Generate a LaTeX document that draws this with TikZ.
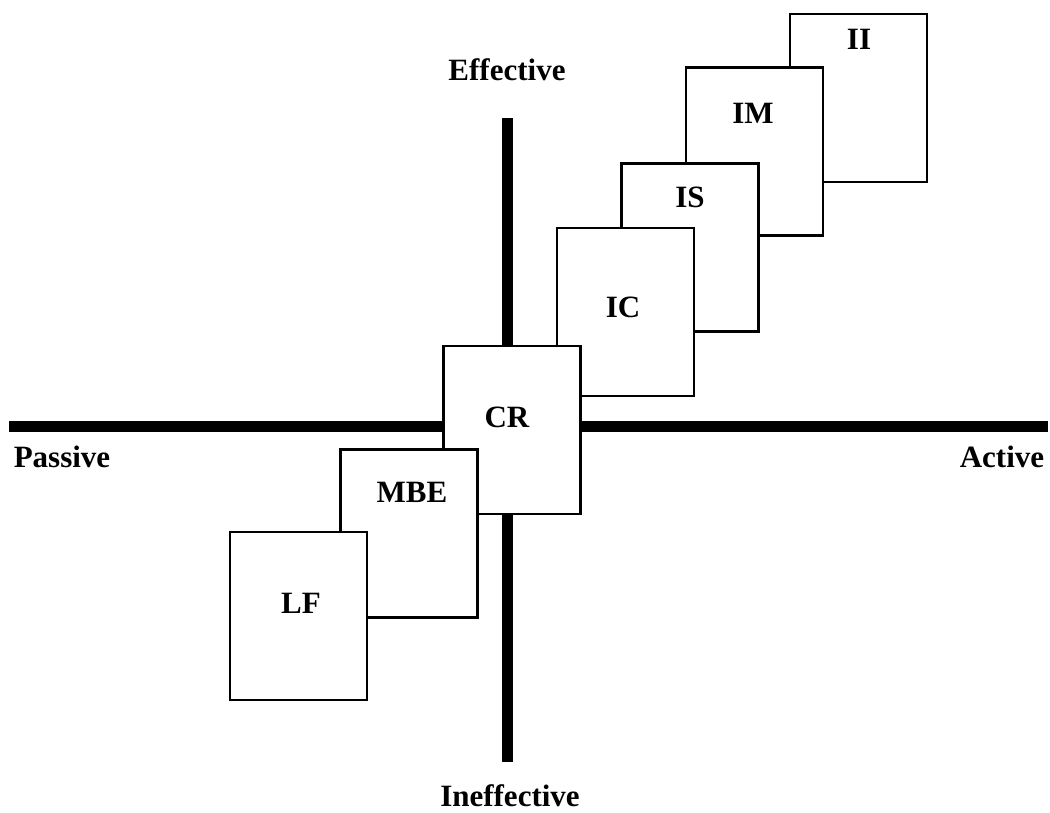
\documentclass[tikz,border=0pt]{standalone}
\usepackage{fontspec}
\setmainfont{Liberation Serif}
\begin{document}
\begin{tikzpicture}[x=1pt,y=-1pt,
  panel/.style={draw=black,fill=white,line width=2.5pt,minimum width=137pt,minimum height=168pt,inner sep=0pt,outer sep=0pt},
  lbl/.style={font=\fontsize{31}{31}\selectfont\bfseries,inner sep=0pt,anchor=center},
  axis/.style={line width=11pt,line cap=butt}]
\useasboundingbox (0,0) rectangle (1050,812);
% axes
\coordinate (hl) at (9,426);
\coordinate (hr) at (1048,426);
\coordinate (vt) at (507,118);
\coordinate (vb) at (507,762);
\draw[axis] (hl) -- (hr);
\draw[axis] (vt) -- (vb);
% panels, back to front
\node[panel] (II) at (858.5,98) {};
\node[panel] (IM) at (754.5,151.5) {};
\node[panel] (IS) at (690,247.5) {};
\node[panel] (IC) at (625.5,312) {};
\node[panel] (CR) at (512,430) {};
\node[panel] (MBE) at (409,533.5) {};
\node[panel] (LF) at (298.5,616) {};
% panel texts
\node[lbl] (tII) at (859,39) {II};
\node[lbl] (tIM) at (753,113) {IM};
\node[lbl] (tIS) at (690,197) {IS};
\node[lbl] (tIC) at (623,307) {IC};
\node[lbl] (tCR) at (507,417) {CR};
\node[lbl] (tMBE) at (412,492) {MBE};
\node[lbl] (tLF) at (301,603) {LF};
% axis labels
\node[lbl] (eff) at (507,70) {Effective};
\node[lbl] (ineff) at (510,796) {Ineffective};
\node[lbl] (pas) at (62,457) {Passive};
\node[lbl] (act) at (1002,457) {Active};
\end{tikzpicture}
\end{document}
